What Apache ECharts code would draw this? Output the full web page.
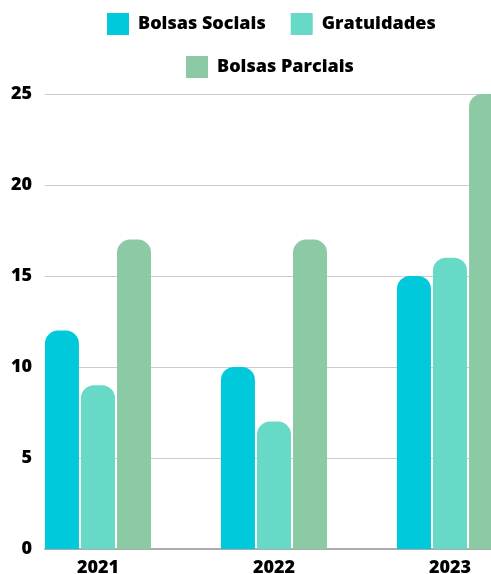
<!DOCTYPE html>
<html>
<head>
<meta charset="utf-8">
<script src="https://cdn.jsdelivr.net/npm/echarts@6/dist/echarts.min.js"></script>
<style>
html,body{margin:0;padding:0;background:#fff;}
#c{width:491px;height:574px;}
</style>
</head>
<body>
<div id="c"></div>
<script>
var years = [2021, 2022, 2023];
var bolsasSociais = [12, 10, 15];
var gratuidades = [9, 7, 16];
var bolsasParciais = [17, 17, 25];
var yTicks = [0, 5, 10, 15, 20, 25];

var FONT = '"Open Sans", "DejaVu Sans", sans-serif';
var colors = ['#00C9DB', '#67D9C7', '#8BCAA4'];

function pairs(vals) {
  return years.map(function (y, i) { return [y, vals[i]]; });
}

var chart = echarts.init(document.getElementById('c'), null, {renderer: 'canvas'});
var txt = {color: '#000', fontFamily: FONT, fontWeight: 800, fontSize: 18, padding: [4, 0, 0, 4]};
chart.setOption({
  animation: false,
  backgroundColor: '#fff',
  legend: [{
    data: ['Bolsas Sociais', 'Gratuidades'],
    left: 107, top: 13, padding: 0,
    icon: 'rect', itemWidth: 22, itemHeight: 22, itemGap: 25,
    textStyle: txt
  }, {
    data: ['Bolsas Parciais'],
    left: 186, top: 56, padding: 0,
    icon: 'rect', itemWidth: 22, itemHeight: 22, itemGap: 25,
    textStyle: txt
  }],
  grid: {left: 45, right: 0, top: 94, bottom: 25, containLabel: false, outerBoundsMode: 'none'},
  xAxis: {
    type: 'value',
    min: 2020.699, max: 2023.233,
    splitLine: {show: false},
    axisTick: {show: false},
    axisLine: {show: true, onZero: false, lineStyle: {color: '#ababab', width: 2}},
    axisLabel: {
      customValues: years,
      showMinLabel: true, showMaxLabel: true,
      margin: 10,
      color: '#000', fontFamily: FONT, fontWeight: 800, fontSize: 18,
      formatter: function (v) { return String(v); }
    }
  },
  yAxis: {
    type: 'value',
    min: yTicks[0], max: yTicks[yTicks.length - 1], interval: 5,
    axisLine: {show: false},
    axisTick: {show: false},
    splitLine: {lineStyle: {color: '#cccccc', width: 1}},
    axisLabel: {margin: 13, padding: [3, 0, 0, 0], color: '#000', fontFamily: FONT, fontWeight: 800, fontSize: 18}
  },
  series: [
    {name: 'Bolsas Sociais', type: 'bar', data: pairs(bolsasSociais), barWidth: 34, barGap: '6%',
      itemStyle: {color: colors[0], borderRadius: [13, 13, 0, 0]}},
    {name: 'Gratuidades', type: 'bar', data: pairs(gratuidades), barWidth: 34, barGap: '6%',
      itemStyle: {color: colors[1], borderRadius: [13, 13, 0, 0]}},
    {name: 'Bolsas Parciais', type: 'bar', data: pairs(bolsasParciais), barWidth: 34, barGap: '6%',
      itemStyle: {color: colors[2], borderRadius: [13, 13, 0, 0]}}
  ]
});
</script>
</body>
</html>
